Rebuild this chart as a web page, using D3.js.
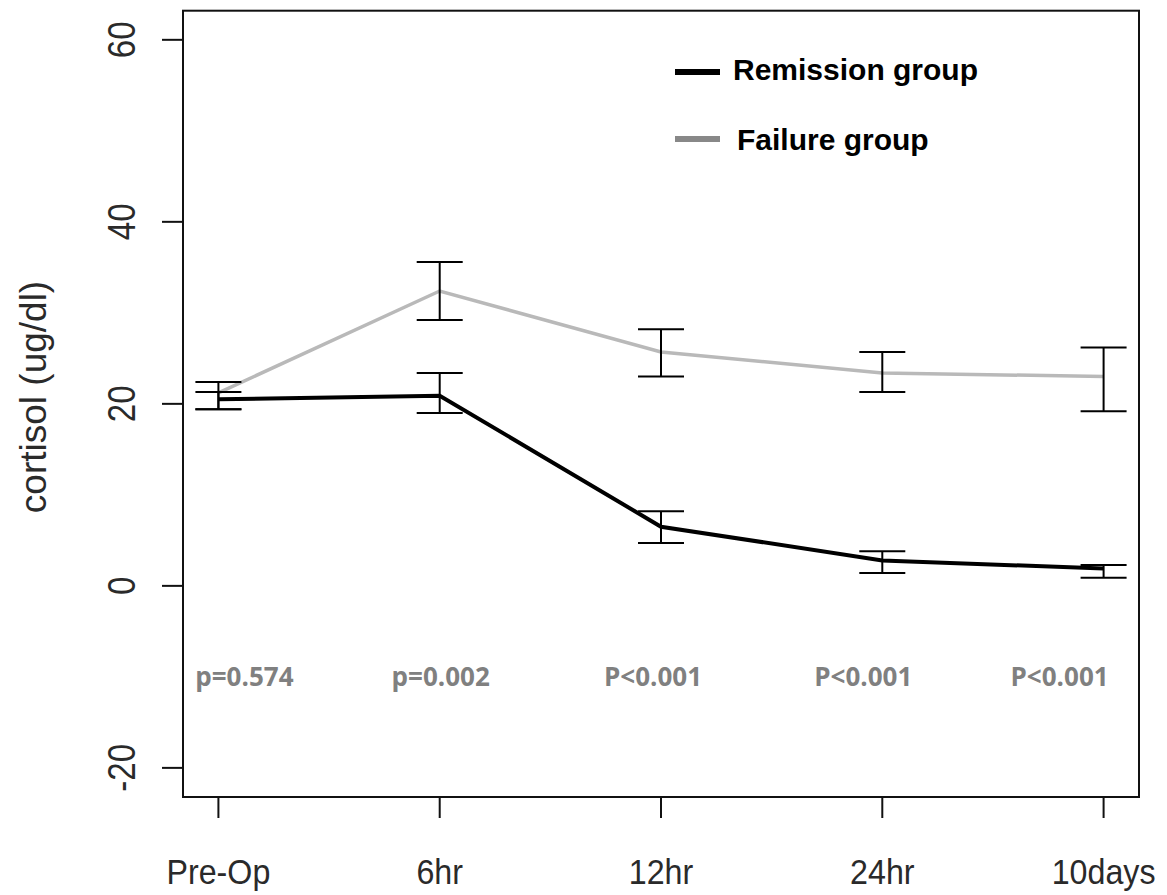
<!DOCTYPE html>
<html>
<head>
<meta charset="utf-8">
<title>Cortisol</title>
<script src="https://d3js.org/d3.v7.min.js"></script>
<style>
	body { margin: 0; background: #fff; }
	svg { display: block; }
	.axis-text { font-family: "Liberation Sans", Arial, sans-serif; fill: #2a2a2a; }
	.legend-text { font-family: "Liberation Sans", Arial, sans-serif; font-weight: bold; fill: #000; }
	.pval { font-family: "Open Sans", "Liberation Sans", sans-serif; font-weight: bold; fill: #808080; }
</style>
</head>
<body>
<svg width="1167" height="895"></svg>
<script>
// categories and values
var categories = ["Pre-Op", "6hr", "12hr", "24hr", "10days"];
var remissionMean = [20.5, 20.9, 6.5, 2.8, 1.9];
var remissionLow  = [19.4, 19.0, 4.7, 1.4, 0.9];
var remissionHigh = [21.3, 23.4, 8.2, 3.8, 2.3];
var failureMean = [21.2, 32.4, 25.7, 23.4, 23.0];
var failureLow  = [19.4, 29.2, 23.0, 21.3, 19.2];
var failureHigh = [22.4, 35.6, 28.2, 25.7, 26.2];
var yTicks = [-20, 0, 20, 40, 60];
var pLabels = ["p=0.574", "p=0.002", "P<0.001", "P<0.001", "P<0.001"];
var seriesNames = ["Remission group", "Failure group"];

var svg = d3.select("svg");

// plot box like R's default (4% extension)
var x = d3.scaleLinear().domain([0.84, 5.16]).range([183, 1139]);
var y = d3.scaleLinear().domain([-23.2, 63.2]).range([797, 10.7]);

// squeeze text a bit, the original font is narrow
function narrow(sel, k) {
	sel.each(function() {
		var w = this.getComputedTextLength();
		d3.select(this).attr("textLength", w * k).attr("lengthAdjust", "spacingAndGlyphs");
	});
}

// box
svg.append("rect")
	.attr("x", x(0.84)).attr("y", y(63.2))
	.attr("width", x(5.16) - x(0.84)).attr("height", y(-23.2) - y(63.2))
	.attr("fill", "none").attr("stroke", "#111").attr("stroke-width", 2);

// y axis
var yAxis = svg.append("g");
yAxis.selectAll("line").data(yTicks).enter().append("line")
	.attr("x1", 162).attr("x2", x(0.84))
	.attr("y1", function(d) { return y(d); }).attr("y2", function(d) { return y(d); })
	.attr("stroke", "#111").attr("stroke-width", 2);
yAxis.selectAll("text").data(yTicks).enter().append("text")
	.attr("class", "axis-text")
	.attr("font-size", 38)
	.attr("text-anchor", "middle")
	.attr("transform", function(d) { return "translate(135," + y(d) + ") rotate(-90)"; })
	.text(function(d) { return d; })
	.call(narrow, 0.87);

svg.append("text")
	.attr("class", "axis-text")
	.attr("font-size", 37)
	.attr("text-anchor", "middle")
	.attr("transform", "translate(46,397) rotate(-90)")
	.text("cortisol (ug/dl)");

// x axis
var xAxis = svg.append("g");
xAxis.selectAll("line").data(categories).enter().append("line")
	.attr("x1", function(d, i) { return x(i + 1); }).attr("x2", function(d, i) { return x(i + 1); })
	.attr("y1", y(-23.2)).attr("y2", y(-23.2) + 21)
	.attr("stroke", "#111").attr("stroke-width", 2);
xAxis.selectAll("text").data(categories).enter().append("text")
	.attr("class", "axis-text")
	.attr("font-size", 35)
	.attr("text-anchor", "middle")
	.attr("x", function(d, i) { return x(i + 1); })
	.attr("y", 884)
	.text(function(d) { return d; })
	.call(narrow, 0.92);

// lines
var line = d3.line()
	.x(function(d, i) { return x(i + 1); })
	.y(function(d) { return y(d); });

svg.append("path").datum(failureMean)
	.attr("d", line).attr("fill", "none")
	.attr("stroke", "#b9b9b9").attr("stroke-width", 3.5);
svg.append("path").datum(remissionMean)
	.attr("d", line).attr("fill", "none")
	.attr("stroke", "#000").attr("stroke-width", 4);

// error bars
function errorBars(lo, hi) {
	var g = svg.append("g").attr("stroke", "#000").attr("stroke-width", 2);
	lo.forEach(function(v, i) {
		var cx = x(i + 1);
		g.append("line").attr("x1", cx).attr("x2", cx).attr("y1", y(v)).attr("y2", y(hi[i]));
		g.append("line").attr("x1", cx - 23).attr("x2", cx + 23).attr("y1", y(v)).attr("y2", y(v));
		g.append("line").attr("x1", cx - 23).attr("x2", cx + 23).attr("y1", y(hi[i])).attr("y2", y(hi[i]));
	});
}
errorBars(failureLow, failureHigh);
errorBars(remissionLow, remissionHigh);

// p values under each time point
var pShift = [26, 1, -8, -19, -44];
svg.selectAll(".pval").data(pLabels).enter().append("text")
	.attr("class", "pval")
	.attr("font-size", 26)
	.attr("text-anchor", "middle")
	.attr("x", function(d, i) { return x(i + 1) + pShift[i]; })
	.attr("y", 686)
	.text(function(d) { return d; });

// legend
var legendColors = ["#000", "#888"];
var legend = svg.append("g");
seriesNames.forEach(function(name, i) {
	var ly = 72 + i * 67;
	legend.append("line")
		.attr("x1", 675).attr("x2", 720).attr("y1", ly).attr("y2", ly)
		.attr("stroke", legendColors[i]).attr("stroke-width", 6);
	legend.append("text")
		.attr("class", "legend-text")
		.attr("font-size", 30)
		.attr("x", 733 + i * 4).attr("y", ly + 8 + i * 3)
		.text(name);
});
</script>
</body>
</html>
